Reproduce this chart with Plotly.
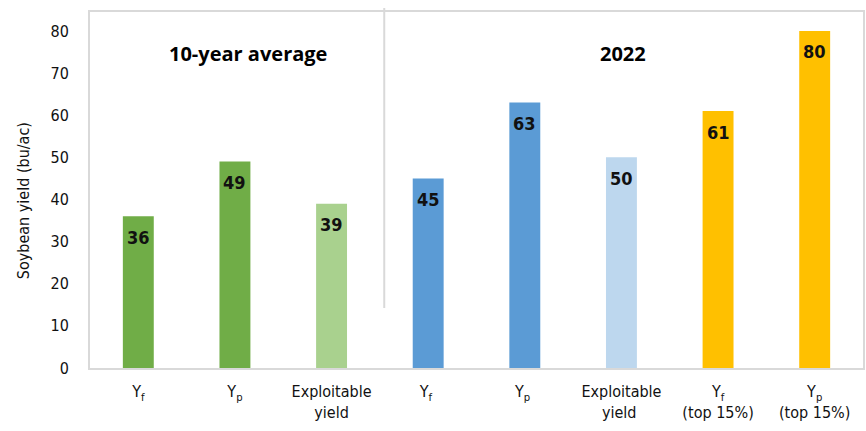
import plotly.graph_objects as go

# Soybean yield: 10-year average vs. 2022
categories = [
    "Y<sub>f</sub>", "Y<sub>p</sub>", "Exploitable<br>yield",
    "Y<sub>f</sub> ", "Y<sub>p</sub> ", "Exploitable<br>yield ",
    "Y<sub>f</sub><br>(top 15%)", "Y<sub>p</sub><br>(top 15%)",
]
yields = [36, 49, 39, 45, 63, 50, 61, 80]
bar_colors = ["#70AD47", "#70AD47", "#A9D18E",
              "#5B9BD5", "#5B9BD5", "#BDD7EE",
              "#FFC000", "#FFC000"]
y_ticks = [0, 10, 20, 30, 40, 50, 60, 70, 80]
group_titles = ["10-year average", "2022"]
y_title = "Soybean yield (bu/ac)"

FONT = "DejaVu Sans Condensed, Liberation Sans Narrow, Roboto, sans-serif"
AXIS_GRAY = "#D9D9D9"

fig = go.Figure(
    go.Bar(
        x=categories,
        y=yields,
        marker=dict(color=bar_colors, line=dict(width=0)),
        width=0.32,
        hoverinfo="skip",
    )
)

# value labels just inside the top of each bar
for cat, val in zip(categories, yields):
    fig.add_annotation(
        x=cat, y=val, yref="y", text=f"<b>{val}</b>", showarrow=False,
        yshift=-21, font=dict(family=FONT, size=18, color="#111111"),
    )

# group headings
for title, px in zip(group_titles, [248, 624]):
    fig.add_annotation(x=(px - 90) / 775, y=(368 - 53) / 356, xref="paper", yref="paper",
                       xanchor="center", yanchor="middle",
                       text=f"<b>{title}</b>", showarrow=False,
                       font=dict(family="Open Sans, sans-serif", size=20, color="#000000"))

# y-axis title
fig.add_annotation(x=(23 - 90) / 775, y=(368 - 201) / 356, xref="paper", yref="paper",
                   xanchor="center", yanchor="middle", textangle=-90,
                   text=y_title, showarrow=False,
                   font=dict(family=FONT, size=16, color="#111111"))

# divider between the two groups
fig.add_shape(type="line", xref="paper", yref="paper",
              x0=(385 - 90) / 775, x1=(385 - 90) / 775,
              y0=(368 - 308) / 356, y1=(368 - 8) / 356,
              line=dict(color=AXIS_GRAY, width=2))

fig.update_layout(
    width=866, height=431,
    margin=dict(l=90, r=1, t=12, b=63),
    paper_bgcolor="white", plot_bgcolor="white",
    showlegend=False,
    font=dict(family=FONT, size=16, color="#111111"),
    bargap=0.68,
)
fig.update_xaxes(
    showline=True, linecolor=AXIS_GRAY, linewidth=2, mirror=True,
    showgrid=False, ticks="", ticklabelstandoff=8,
    tickfont=dict(family=FONT, size=16),
)
fig.update_yaxes(
    range=[0, 84.5], tickvals=y_ticks, showline=True, linecolor=AXIS_GRAY,
    linewidth=2, mirror=True, showgrid=False, zeroline=False, ticks="",
    ticklabelstandoff=16,
    tickfont=dict(family=FONT, size=16),
)

fig.write_html("out.html")
